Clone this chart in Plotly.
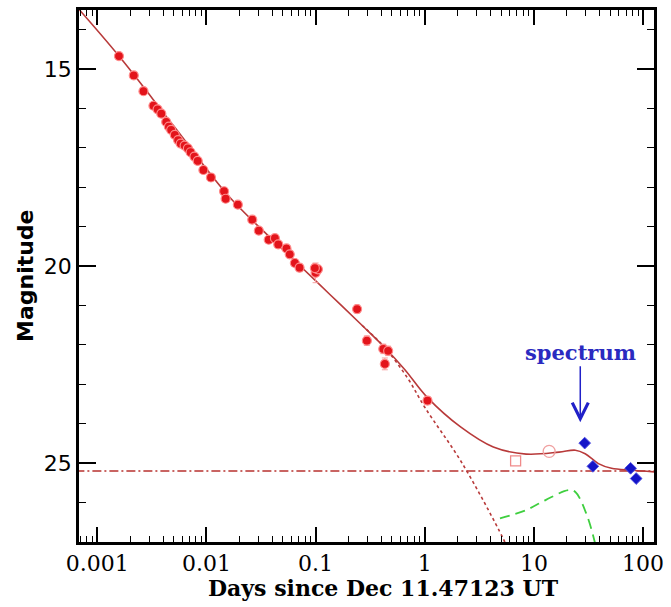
import math
import plotly.graph_objects as go

# ---------------- data ----------------
# optical afterglow photometry (filled red circles): days, magnitude
red_days = [0.00158, 0.00216, 0.00265, 0.00327, 0.00357, 0.00386, 0.00428, 0.00453,
            0.00475, 0.00513, 0.0055, 0.00581, 0.00631, 0.00676, 0.00716, 0.00776,
            0.00832, 0.00938, 0.0110, 0.0145, 0.0150, 0.0194, 0.0263, 0.0302,
            0.0372, 0.0424, 0.0455, 0.0541, 0.0580, 0.0646, 0.0713, 0.100,
            0.105, 0.0985, 0.240, 0.295, 0.417, 0.462, 0.431, 1.06]
red_mag = [14.67, 15.16, 15.56, 15.93, 16.02, 16.13, 16.34, 16.46,
           16.54, 16.67, 16.80, 16.89, 16.94, 17.01, 17.11, 17.22,
           17.33, 17.56, 17.75, 18.10, 18.29, 18.44, 18.82, 19.10,
           19.33, 19.29, 19.45, 19.55, 19.70, 19.92, 20.04, 20.17,
           20.08, 20.05, 21.09, 21.89, 22.10, 22.15, 22.48, 23.41]
red_err = [0.05, 0.05, 0.05, 0.05, 0.05, 0.05, 0.05, 0.05,
           0.05, 0.05, 0.05, 0.05, 0.05, 0.05, 0.05, 0.05,
           0.05, 0.05, 0.05, 0.08, 0.08, 0.08, 0.08, 0.08,
           0.08, 0.08, 0.08, 0.08, 0.08, 0.08, 0.10, 0.25,
           0.10, 0.10, 0.10, 0.12, 0.12, 0.12, 0.15, 0.10]

# open symbols (late-time points)
open_sq_days = [6.8]
open_sq_mag = [24.94]
open_ci_days = [13.8]
open_ci_mag = [24.70]

# blue diamonds
blue_days = [29.2, 34.7, 76.9, 86.5]
blue_mag = [24.49, 25.08, 25.13, 25.39]

# model: total (solid)
model_days = [0.00063, 0.00158, 0.005, 0.0155, 0.035, 0.0665, 0.133, 0.266, 0.431,
              0.655, 1.055, 2.13, 4.25, 8.49, 17.0, 24.0, 29.5, 39.0, 51.4, 78.0, 126.0]
model_mag = [13.38, 14.67, 16.44, 18.18, 19.17, 19.90, 20.70, 21.50, 22.07,
             22.62, 23.33, 24.08, 24.59, 24.77, 24.72, 24.67, 24.76, 25.01, 25.13,
             25.18, 25.22]

# afterglow only (dotted)
ag_days = [0.266, 0.431, 0.70, 1.0, 2.2, 5.2, 5.8]
ag_mag = [21.50, 22.07, 22.85, 23.58, 25.00, 26.90, 27.2]

# supernova component (green dashed)
sn_days = [4.89, 8.49, 12.9, 20.9, 24.0, 30.5, 36.1, 38.0]
sn_mag = [26.40, 26.19, 25.93, 25.68, 25.73, 26.31, 27.0, 27.3]

# host galaxy level (dash-dot)
host_mag = 25.2
host_days = [0.00063, 126.0]

spectrum_day = 26.6
spectrum_tip_mag = 23.96

x_tick_vals = [0.001, 0.01, 0.1, 1, 10, 100]
x_tick_text = ["0.001", "0.01", "0.1", "1", "10", "100"]
y_tick_vals = [15, 20, 25]
x_range_days = [0.00068, 126.0]
y_range = [27.0, 13.5]

# ---------------- figure ----------------
RED = "#e3141b"
CURVE = "#b83a3a"

fig = go.Figure()

fig.add_trace(go.Scatter(x=host_days, y=[host_mag, host_mag], mode="lines",
                         line=dict(color="#b8322f", width=1.6, dash="9px,3px,2px,3px"),
                         hoverinfo="skip"))
fig.add_trace(go.Scatter(x=sn_days, y=sn_mag, mode="lines", line_shape="spline",
                         line=dict(color="#3fcf3f", width=1.8, dash="10px,6px"),
                         hoverinfo="skip"))
fig.add_trace(go.Scatter(x=ag_days, y=ag_mag, mode="lines", line_shape="spline",
                         line=dict(color=CURVE, width=1.6, dash="dot"),
                         hoverinfo="skip"))
fig.add_trace(go.Scatter(x=model_days, y=model_mag, mode="lines", line_shape="spline",
                         line=dict(color=CURVE, width=1.6),
                         hoverinfo="skip"))

fig.add_trace(go.Scatter(x=red_days, y=red_mag, mode="markers",
                         error_y=dict(type="data", array=red_err, color="#f4a0a0",
                                      thickness=1, width=3),
                         marker=dict(symbol="circle", size=9, color=RED,
                                     line=dict(color="#ff8a8a", width=1.2))))
fig.add_trace(go.Scatter(x=open_sq_days, y=open_sq_mag, mode="markers",
                         marker=dict(symbol="square-open", size=10, color="#f08a8a",
                                     line=dict(width=1.3))))
fig.add_trace(go.Scatter(x=open_ci_days, y=open_ci_mag, mode="markers",
                         marker=dict(symbol="circle-open", size=12, color="#f0a0a0",
                                     line=dict(width=1.3))))
fig.add_trace(go.Scatter(x=blue_days, y=blue_mag, mode="markers",
                         error_y=dict(type="constant", value=0.06, color="#9090e0",
                                      thickness=1, width=3),
                         marker=dict(symbol="diamond", size=9, color="#1414c8",
                                     line=dict(color="#5050e0", width=1))))

fig.add_annotation(x=math.log10(spectrum_day), y=spectrum_tip_mag, xref="x", yref="y",
                   text="<b>spectrum</b>", showarrow=True, arrowhead=5, arrowsize=2.1,
                   arrowwidth=1.5, arrowcolor="#2020c8", ax=0, ay=-70,
                   font=dict(family="DejaVu Serif", size=21, color="#2a2ac0"))

fig.add_annotation(x=0, y=0.5, xref="paper", yref="paper", xshift=-54,
                   text="<b>Magnitude</b>", textangle=-90, showarrow=False,
                   xanchor="center", yanchor="middle",
                   font=dict(family="DejaVu Sans", size=22, color="black"))
fig.add_annotation(x=0.529, y=0, xref="paper", yref="paper", yshift=-46,
                   text="<b>Days since Dec 11.47123 UT</b>", showarrow=False,
                   xanchor="center", yanchor="middle",
                   font=dict(family="DejaVu Serif", size=22, color="black"))

minor_x = []
for n in range(-4, 3):
    for k in range(2, 10):
        minor_x.append(k * 10 ** n)

fig.update_xaxes(type="log", range=[math.log10(v) for v in x_range_days],
                 tickvals=x_tick_vals, ticktext=x_tick_text,
                 ticks="inside", ticklen=15, tickwidth=1.5, tickcolor="black",
                 minor=dict(tickvals=minor_x, ticks="inside", ticklen=6,
                            tickwidth=1.2, tickcolor="black"),
                 showline=True, linewidth=2.5, linecolor="black", mirror="allticks",
                 showgrid=False, zeroline=False,
                 tickfont=dict(family="DejaVu Serif", size=22, color="black"))
fig.update_yaxes(range=y_range, tickvals=y_tick_vals,
                 ticks="inside", ticklen=17, tickwidth=1.5, tickcolor="black",
                 minor=dict(dtick=1, ticks="inside", ticklen=7, tickwidth=1.2,
                            tickcolor="black"),
                 showline=True, linewidth=2.5, linecolor="black", mirror="allticks",
                 showgrid=False, zeroline=False,
                 tickfont=dict(family="DejaVu Sans", size=22, color="black"))

fig.update_layout(width=671, height=607, showlegend=False,
                  margin=dict(l=79, r=8, t=7, b=65),
                  paper_bgcolor="white", plot_bgcolor="white")

fig.write_html("out.html")
